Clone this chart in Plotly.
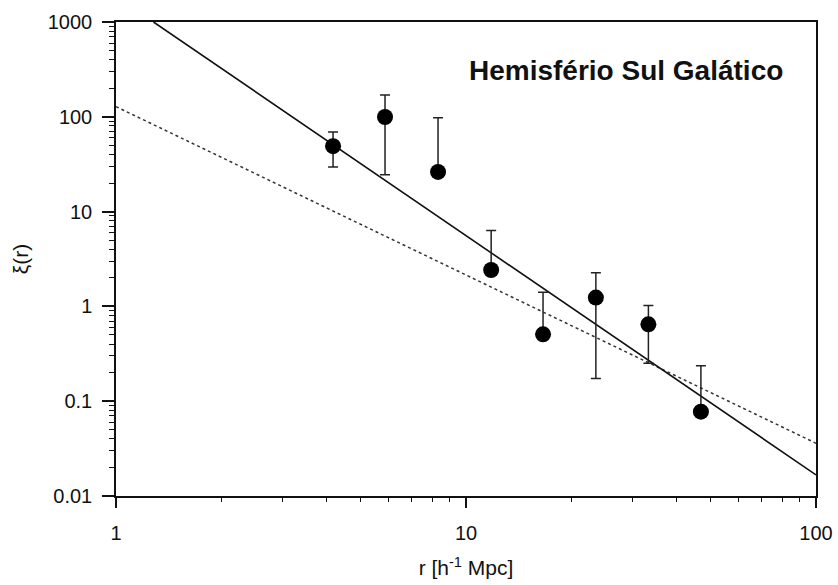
import plotly.graph_objects as go

# Correlation function measurements (separation r, xi(r), error-bar limits)
r_obs = [4.17, 5.87, 8.32, 11.8, 16.6, 23.5, 33.2, 46.9]
xi_obs = [49.0, 99.5, 26.2, 2.42, 0.507, 1.24, 0.647, 0.0775]
xi_upper = [69.0, 170.0, 98.0, 6.3, 1.41, 2.27, 1.02, 0.237]
xi_lower = [29.6, 24.5, 26.2, 2.42, 0.507, 0.174, 0.251, 0.0775]

# Power-law fits (end points on the log-log axes)
fit_solid_r = [1.28, 100.0]
fit_solid_xi = [1000.0, 0.0167]
fit_dotted_r = [1.0, 100.0]
fit_dotted_xi = [128.0, 0.036]

y_tickvals = [0.01, 0.1, 1, 10, 100, 1000]
y_ticktext = ["0.01", "0.1", "1", "10", "100", "1000"]
x_tickvals = [1, 10, 100]
x_ticktext = ["1", "10", "100"]
minor_digits = [2, 3, 4, 5, 6, 7, 8, 9]

err_plus = [u - y for u, y in zip(xi_upper, xi_obs)]
err_minus = [y - l for y, l in zip(xi_obs, xi_lower)]

x_minor = [d * 10 ** e for e in range(0, 2) for d in minor_digits]
y_minor = [d * 10.0 ** e for e in range(-2, 3) for d in minor_digits]

font_family = "Liberation Sans, Arial, Helvetica, sans-serif"

fig = go.Figure()

fig.add_trace(go.Scatter(
    x=fit_dotted_r, y=fit_dotted_xi, mode="lines",
    line=dict(color="#333333", width=1.5, dash="dot"),
    showlegend=False, hoverinfo="skip",
))
fig.add_trace(go.Scatter(
    x=fit_solid_r, y=fit_solid_xi, mode="lines",
    line=dict(color="#111111", width=1.6),
    showlegend=False, hoverinfo="skip",
))
fig.add_trace(go.Scatter(
    x=r_obs, y=xi_obs, mode="markers",
    marker=dict(color="black", size=16, symbol="circle"),
    error_y=dict(type="data", symmetric=False, array=err_plus,
                 arrayminus=err_minus, color="#222222", thickness=1.5, width=5),
    showlegend=False,
))

fig.add_annotation(
    x=0.729, y=0.897, xref="paper", yref="paper",
    text="<b>Hemisfério Sul Galático</b>", showarrow=False,
    font=dict(family=font_family, size=28, color="#111111"),
    xanchor="center", yanchor="middle",
)

axis_common = dict(
    type="log", showgrid=False, zeroline=False, automargin=False,
    showline=True, linecolor="#111111", linewidth=1.5, mirror=True,
    ticks="outside", tickcolor="#111111", tickwidth=1.5,
    tickfont=dict(family=font_family, size=20, color="#111111"),
)

fig.update_xaxes(
    **axis_common, range=[0, 2], tickvals=x_tickvals, ticktext=x_ticktext,
    ticklen=10, ticklabelstandoff=8,
    minor=dict(ticks="outside", ticklen=4, tickwidth=1.2, tickcolor="#111111",
               showgrid=False, tickvals=x_minor),
    title=dict(text="r [h<sup>-1</sup> Mpc]", font=dict(family=font_family, size=21, color="#111111"),
               standoff=18),
)
fig.update_yaxes(
    **axis_common, range=[-2, 3], tickvals=y_tickvals, ticktext=y_ticktext,
    ticklen=12, ticklabelstandoff=6,
    minor=dict(ticks="outside", ticklen=5, tickwidth=1.2, tickcolor="#111111",
               showgrid=False, tickvals=y_minor),
    title=dict(text="ξ(r)", font=dict(family=font_family, size=21, color="#111111"),
               standoff=13),
)

fig.update_layout(
    width=838, height=585,
    margin=dict(l=116, r=22, t=22, b=89),
    plot_bgcolor="white", paper_bgcolor="white",
)

fig.write_html("out.html")
